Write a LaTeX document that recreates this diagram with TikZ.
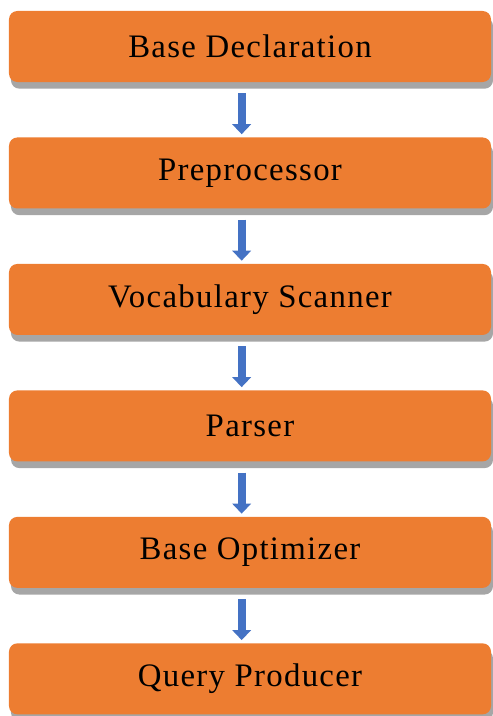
\documentclass[tikz,border=0pt]{standalone}
\usepackage{fontspec}
\setmainfont{Liberation Serif}[LetterSpace=4]
\usetikzlibrary{positioning,shadows,arrows.meta}
\definecolor{boxorange}{HTML}{ED7D31}
\definecolor{arrowblue}{HTML}{4472C4}
\definecolor{shadowgray}{HTML}{A6A6A6}
\tikzset{
  stage/.style={rectangle, rounded corners=0.25cm, fill=boxorange,
       minimum width=14.46cm, minimum height=2.13cm, inner sep=0cm,
       font=\fontsize{28}{32}\selectfont,
       drop shadow={shadow xshift=0.06cm, shadow yshift=-0.2cm,
                    fill=shadowgray, opacity=1}},
  flow/.style={-{Triangle[width=0.55cm,length=0.3cm]}, line width=0.24cm,
       arrowblue, shorten <=0.33cm, shorten >=0.09cm}
}
\begin{document}
\begin{tikzpicture}[node distance=1.65cm]
\useasboundingbox (0,0) rectangle (14.79,-21.48);

\node[stage] (decl) at (7.5,-1.395) {Base Declaration};
\node[stage, below=of decl] (prep) {Preprocessor};
\node[stage, below=of prep] (scan) {Vocabulary Scanner};
\node[stage, below=of scan] (pars) {Parser};
\node[stage, below=of pars] (opti) {Base Optimizer};
\node[stage, below=of opti] (prod) {Query Producer};

\draw[flow] (decl.south -| 7.25,0) -- (prep.north -| 7.25,0);
\draw[flow] (prep.south -| 7.25,0) -- (scan.north -| 7.25,0);
\draw[flow] (scan.south -| 7.25,0) -- (pars.north -| 7.25,0);
\draw[flow] (pars.south -| 7.25,0) -- (opti.north -| 7.25,0);
\draw[flow] (opti.south -| 7.25,0) -- (prod.north -| 7.25,0);
\end{tikzpicture}
\end{document}
